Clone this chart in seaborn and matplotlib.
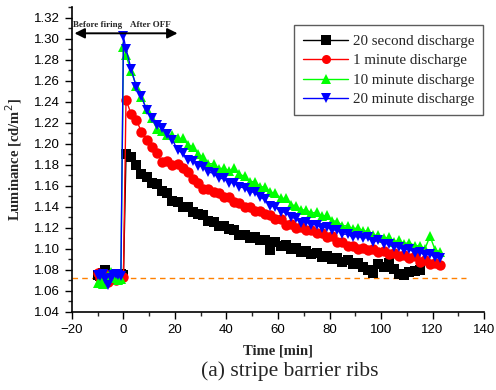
#!/usr/bin/env python3
# luminance decay plot, stripe barrier ribs

import numpy as np
import pandas as pd
import matplotlib
matplotlib.use('Agg')
import matplotlib.pyplot as plt
import seaborn as sns

# Data =========================================================================

series_names = ['20 second discharge', '1 minute discharge',
                '10 minute discharge', '20 minute discharge']

time_before = [-10, -9, -8, -7, -6, -5, -4, -3, -2, -1]
time_after = [0, 1, 3, 5, 7, 9, 11, 13, 15, 17, 19, 21, 23, 25, 27, 29, 31,
              33, 35, 37, 39, 41, 43, 45, 47, 49, 51, 53, 55, 57, 59, 61, 63,
              65, 67, 69, 71, 73, 75, 77, 79, 81, 83, 85, 87, 89, 91, 93, 95,
              97, 99, 101, 103, 105, 107, 109, 111, 113, 115, 117, 119, 121, 123]

before_20s = [1.075, 1.074, 1.077, 1.080, 1.076, 1.073, 1.075, 1.072, 1.074, 1.076]
before_1m = [1.077, 1.072, 1.070, 1.076, 1.069, 1.071, 1.073, 1.070, 1.072, 1.074]
before_10m = [1.068, 1.070, 1.067, 1.072, 1.074, 1.078, 1.076, 1.072, 1.070, 1.071]
before_20m = [1.075, 1.074, 1.076, 1.071, 1.066, 1.072, 1.075, 1.076, 1.075, 1.074]

after_20s = [1.075, 1.190, 1.187, 1.180, 1.171, 1.168, 1.163, 1.162, 1.155, 1.153,
             1.146, 1.145, 1.140, 1.140, 1.135, 1.133, 1.132, 1.127, 1.126, 1.122,
             1.122, 1.119, 1.118, 1.113, 1.113, 1.110, 1.111, 1.108, 1.108, 1.099,
             1.107, 1.103, 1.104, 1.100, 1.101, 1.097, 1.098, 1.095, 1.096, 1.092,
             1.093, 1.090, 1.091, 1.088, 1.089, 1.086, 1.087, 1.083, 1.080, 1.077,
             1.086, 1.083, 1.087, 1.081, 1.076, 1.075, 1.078, 1.079, 1.080,
             None, None, None, None]
after_1m = [1.073, 1.242, 1.228, 1.223, 1.211, 1.204, 1.197, 1.191, 1.183, 1.184,
            1.180, 1.181, 1.177, 1.173, 1.166, 1.163, 1.157, 1.157, 1.154, 1.153,
            1.149, 1.149, 1.145, 1.144, 1.140, 1.140, 1.136, 1.136, 1.133, 1.132,
            1.128, 1.128, 1.123, 1.124, 1.120, 1.121, 1.118, 1.118, 1.115, 1.115,
            1.111, 1.112, 1.107, 1.107, 1.103, 1.103, 1.100, 1.101, 1.099, 1.100,
            1.097, 1.098, 1.095, 1.096, 1.093, 1.094, 1.091, 1.093, 1.088, 1.089,
            1.086, 1.087, 1.085]
after_10m = [1.292, 1.284, 1.269, 1.255, 1.244, 1.233, 1.224, 1.214, 1.212, 1.208,
             1.208, 1.205, 1.205, 1.199, 1.197, 1.190, 1.187, 1.181, 1.181, 1.176,
             1.177, 1.174, 1.177, 1.171, 1.169, 1.164, 1.164, 1.159, 1.159, 1.154,
             1.153, 1.148, 1.148, 1.142, 1.141, 1.137, 1.137, 1.134, 1.135, 1.131,
             1.132, 1.127, 1.126, 1.122, 1.122, 1.119, 1.120, 1.117, 1.117, 1.113,
             1.113, 1.110, 1.111, 1.107, 1.108, 1.105, 1.106, 1.103, 1.103, 1.100,
             1.112, 1.099, 1.097]
after_20m = [1.302, 1.290, 1.271, 1.254, 1.245, 1.232, 1.224, 1.218, 1.215, 1.209,
             1.204, 1.194, 1.191, 1.185, 1.184, 1.179, 1.178, 1.173, 1.172, 1.167,
             1.167, 1.163, 1.163, 1.159, 1.158, 1.154, 1.154, 1.149, 1.147, 1.141,
             1.140, 1.135, 1.135, 1.130, 1.129, 1.125, 1.126, 1.123, 1.123, 1.120,
             1.121, 1.118, 1.118, 1.114, 1.114, 1.111, 1.112, 1.110, 1.111, 1.107,
             1.108, 1.105, 1.105, 1.102, 1.102, 1.099, 1.100, 1.096, 1.097, 1.094,
             1.095, 1.092, 1.091]

baseline = 1.0725
baseline_span = (-20, 133)

# Plot =========================================================================

def main():
    sns.set_style('ticks')
    plt.rcParams['font.family'] = ['Liberation Sans', 'DejaVu Sans']

    befores = [before_20s, before_1m, before_10m, before_20m]
    afters = [after_20s, after_1m, after_10m, after_20m]
    frames = []
    for name, b, a in zip(series_names, befores, afters):
        frames.append(pd.DataFrame({
            'Time': time_before + time_after,
            'Luminance': b + a,
            'Sample': name,
        }))
    data = pd.concat(frames, ignore_index=True)
    data['Luminance'] = pd.to_numeric(data['Luminance'])
    data = data.dropna()

    palette = dict(zip(series_names, ['#000000', '#ff0000', '#00ff00', '#0000ff']))
    markers = dict(zip(series_names, ['s', 'o', '^', 'v']))

    fig = plt.figure(figsize=(4.96, 3.90), dpi=100)
    ax = fig.add_axes([0.145, 0.2, 0.831, 0.782])

    ax.hlines(baseline, *baseline_span, colors='#ff8000', linestyles=(0, (4, 3)),
              linewidth=1, zorder=1)

    sns.lineplot(data=data, x='Time', y='Luminance', hue='Sample',
                 style='Sample', hue_order=series_names, style_order=series_names,
                 palette=palette, markers=markers, dashes=False, sort=False,
                 estimator=None, markersize=7.5, markeredgewidth=0,
                 linewidth=1, ax=ax)

    ax.set_xlim(-20, 140)
    ax.set_ylim(1.04, 1.33)
    ax.set_xticks(np.arange(-20, 141, 20))
    ax.set_xticks(np.arange(-20, 141, 10), minor=True)
    ax.set_yticks(np.arange(1.04, 1.321, 0.02))
    ax.set_yticks(np.arange(1.04, 1.331, 0.01), minor=True)
    ax.yaxis.set_major_formatter(matplotlib.ticker.FormatStrFormatter('%.2f'))
    ax.tick_params(which='major', direction='out', length=5, width=1,
                   labelsize=9.5, colors='black')
    ax.tick_params(which='minor', direction='out', length=3, width=1)
    sns.despine(ax=ax)
    for s in ('left', 'bottom'):
        ax.spines[s].set_linewidth(1.2)
        ax.spines[s].set_color('black')

    serif = ['Liberation Serif', 'DejaVu Serif']
    ax.set_xlabel('Time [min]', family=serif, fontweight='bold', fontsize=10.5,
                  labelpad=6)
    ax.set_ylabel('Luminance [cd/m$^2$]', family=serif, fontweight='bold',
                  fontsize=10.5, labelpad=7)

    # before / after arrow
    ax.annotate('', xy=(-19, 1.305), xytext=(21, 1.305),
                arrowprops=dict(arrowstyle='<|-|>,head_length=0.6,head_width=0.3',
                                color='black', lw=1.4, shrinkA=0, shrinkB=0))
    ax.text(-10, 1.309, 'Before firing', family=serif, fontweight='bold',
            fontsize=6.5, ha='center', va='bottom')
    ax.text(10.5, 1.309, 'After OFF', family=serif, fontweight='bold',
            fontsize=6.5, ha='center', va='bottom')

    handles, labels = ax.get_legend_handles_labels()
    for h in handles:
        h.set_markersize(6.5)
    leg = ax.legend(handles, labels, loc='upper right',
                    bbox_to_anchor=(1.005, 0.95), frameon=True, fancybox=False,
                    edgecolor='#333333', prop={'family': serif, 'size': 10.8},
                    borderpad=0.6, labelspacing=0.4, handlelength=3.0,
                    handletextpad=0.3, borderaxespad=0.2)
    leg.get_frame().set_linewidth(1)

    fig.text(0.585, 0.048, '(a) stripe barrier ribs', family=serif,
             fontsize=15.5, ha='center', va='center')

    fig.savefig('out.png', dpi=100)


if __name__ == '__main__':
    main()
